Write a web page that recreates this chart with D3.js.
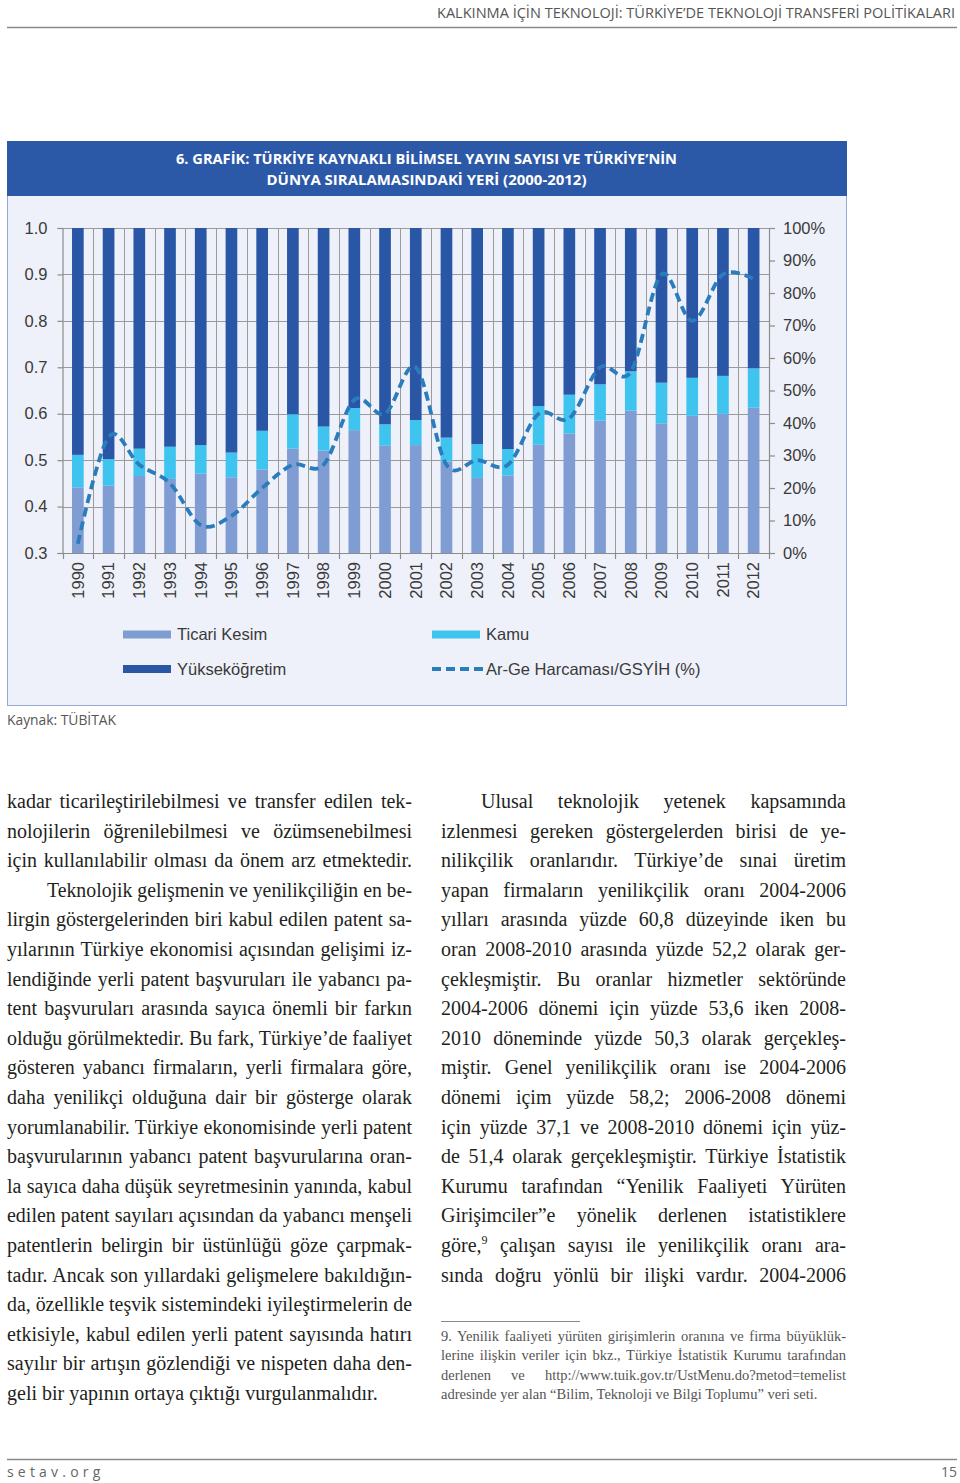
<!DOCTYPE html>
<html>
<head>
<meta charset="utf-8">
<script src="https://cdn.jsdelivr.net/npm/d3@7"></script>
<style>
  body { margin: 0; background: #ffffff; }
  svg { display: block; }
</style>
</head>
<body>
<script>
// ---------------- DATA ----------------
const years = ["1990","1991","1992","1993","1994","1995","1996","1997","1998","1999","2000","2001","2002","2003","2004","2005","2006","2007","2008","2009","2010","2011","2012"];
// shares (%) of R&D expenditure by sector
const ticari = [20.2,20.7,23.7,22.8,24.4,23.3,25.7,32.1,31.5,37.8,33.0,33.2,28.2,23.1,23.8,33.3,36.8,40.7,43.8,39.9,42.2,42.8,44.7];
const kamu   = [10.0, 8.2, 8.4, 9.9, 8.8, 7.6,11.9,10.6, 7.4, 6.8, 6.6, 7.7, 7.3,10.4, 8.2,11.9,11.9,11.2,12.1,12.5,11.7,11.7,12.1];
const yuksek = ticari.map((t, i) => +(100 - t - kamu[i]).toFixed(1));
// Ar-Ge Harcaması / GSYİH (%)
const arge   = [0.32,0.55,0.49,0.45,0.36,0.38,0.44,0.49,0.49,0.63,0.60,0.70,0.49,0.50,0.49,0.60,0.59,0.70,0.69,0.90,0.80,0.90,0.89];

const leftTicks  = [0.3,0.4,0.5,0.6,0.7,0.8,0.9,1.0];
const rightTicks = [0,0.1,0.2,0.3,0.4,0.5,0.6,0.7,0.8,0.9,1.0];

const seriesKeys   = ["ticari","kamu","yuksek"];
const seriesNames  = {ticari:"Ticari Kesim", kamu:"Kamu", yuksek:"Yükseköğretim", arge:"Ar-Ge Harcaması/GSYİH (%)"};

const headerText = "KALKINMA İÇİN TEKNOLOJİ: TÜRKİYE’DE TEKNOLOJİ TRANSFERİ POLİTİKALARI";
const titleLines = ["6. GRAFİK: TÜRKİYE KAYNAKLI BİLİMSEL YAYIN SAYISI VE TÜRKİYE’NİN","DÜNYA SIRALAMASINDAKİ YERİ (2000-2012)"];
const sourceText = "Kaynak: TÜBİTAK";

const leftColumn = [
  "kadar ticarileştirilebilmesi ve transfer edilen tek-",
  "nolojilerin öğrenilebilmesi ve özümsenebilmesi",
  "için kullanılabilir olması da önem arz etmektedir.",
  "Teknolojik gelişmenin ve yenilikçiliğin en be-",
  "lirgin göstergelerinden biri kabul edilen patent sa-",
  "yılarının Türkiye ekonomisi açısından gelişimi iz-",
  "lendiğinde yerli patent başvuruları ile yabancı pa-",
  "tent başvuruları arasında sayıca önemli bir farkın",
  "olduğu görülmektedir. Bu fark, Türkiye’de faaliyet",
  "gösteren yabancı firmaların, yerli firmalara göre,",
  "daha yenilikçi olduğuna dair bir gösterge olarak",
  "yorumlanabilir. Türkiye ekonomisinde yerli patent",
  "başvurularının yabancı patent başvurularına oran-",
  "la sayıca daha düşük seyretmesinin yanında, kabul",
  "edilen patent sayıları açısından da yabancı menşeli",
  "patentlerin belirgin bir üstünlüğü göze çarpmak-",
  "tadır. Ancak son yıllardaki gelişmelere bakıldığın-",
  "da, özellikle teşvik sistemindeki iyileştirmelerin de",
  "etkisiyle, kabul edilen yerli patent sayısında hatırı",
  "sayılır bir artışın gözlendiği ve nispeten daha den-",
  "geli bir yapının ortaya çıktığı vurgulanmalıdır."
];
const rightColumn = [
  "Ulusal teknolojik yetenek kapsamında",
  "izlenmesi gereken göstergelerden birisi de ye-",
  "nilikçilik oranlarıdır. Türkiye’de sınai üretim",
  "yapan firmaların yenilikçilik oranı 2004-2006",
  "yılları arasında yüzde 60,8 düzeyinde iken bu",
  "oran 2008-2010 arasında yüzde 52,2 olarak ger-",
  "çekleşmiştir. Bu oranlar hizmetler sektöründe",
  "2004-2006 dönemi için yüzde 53,6 iken 2008-",
  "2010 döneminde yüzde 50,3 olarak gerçekleş-",
  "miştir. Genel yenilikçilik oranı ise 2004-2006",
  "dönemi içim yüzde 58,2; 2006-2008 dönemi",
  "için yüzde 37,1 ve 2008-2010 dönemi için yüz-",
  "de 51,4 olarak gerçekleşmiştir. Türkiye İstatistik",
  "Kurumu tarafından “Yenilik Faaliyeti Yürüten",
  "Girişimciler”e yönelik derlenen istatistiklere",
  "göre,|9| çalışan sayısı ile yenilikçilik oranı ara-",
  "sında doğru yönlü bir ilişki vardır. 2004-2006"
];
const footnote = [
  "9. Yenilik faaliyeti yürüten girişimlerin oranına ve firma büyüklük-",
  "lerine ilişkin veriler için bkz., Türkiye İstatistik Kurumu tarafından",
  "derlenen ve http://www.tuik.gov.tr/UstMenu.do?metod=temelist",
  "adresinde yer alan “Bilim, Teknoloji ve Bilgi Toplumu” veri seti."
];

// ---------------- DRAW ----------------
const W = 960, H = 1483;
const svg = d3.select("body").append("svg").attr("width", W).attr("height", H);
svg.append("rect").attr("width", W).attr("height", H).attr("fill", "#ffffff");

const colors = {ticari:"#7f9dd2", kamu:"#3fc3ef", yuksek:"#2a56a6", arge:"#2b7cbc"};

// header
svg.append("text").attr("x", 437).attr("y", 18).attr("text-anchor","start")
  .attr("font-family","Open Sans, sans-serif").attr("font-size", 14.5).attr("fill","#555")
  .attr("textLength", 518).attr("lengthAdjust","spacingAndGlyphs").text(headerText);
svg.append("line").attr("x1",7).attr("x2",957).attr("y1",27.5).attr("y2",27.5)
  .attr("stroke","#8a8a8a").attr("stroke-width",1.5);

// chart panel
svg.append("rect").attr("x",7.5).attr("y",141.5).attr("width",839).attr("height",564)
  .attr("fill","#eef1f9").attr("stroke","#97a9d3").attr("stroke-width",1);
svg.append("rect").attr("x",7).attr("y",141).attr("width",840).attr("height",55).attr("fill","#2c59a7");
const tl = [[163.5, 501],[184.5, 320]];
titleLines.forEach((t,i) => {
  svg.append("text").attr("x", 426.5).attr("y", tl[i][0]).attr("text-anchor","middle")
    .attr("font-family","Open Sans, sans-serif").attr("font-weight",700).attr("font-size",15)
    .attr("fill","#ffffff").attr("textLength", tl[i][1]).attr("lengthAdjust","spacingAndGlyphs").text(t);
});

// scales
const x0 = 62.5, x1 = 769;
const x = d3.scaleBand().domain(years).range([x0, x1]).paddingInner(0.62).paddingOuter(0.31);
const yL = d3.scaleLinear().domain([0.3, 1.0]).range([553, 228]);
const yR = d3.scaleLinear().domain([0, 1]).range([553, 228]);
const step = (x1 - x0) / years.length;

const plot = svg.append("g");
// horizontal gridlines (left axis ticks)
plot.selectAll(".hg").data(leftTicks.slice(1)).join("line")
  .attr("x1", x0).attr("x2", x1).attr("y1", d => Math.round(yL(d)) + 0.5).attr("y2", d => Math.round(yL(d)) + 0.5)
  .attr("stroke","#9b9b9b").attr("stroke-width",1);
// vertical gridlines at category boundaries
const bounds = d3.range(years.length + 1).map(i => x0 + i * step);
plot.selectAll(".vg").data(bounds.slice(1, -1)).join("line")
  .attr("x1", d => Math.round(d) + 0.5).attr("x2", d => Math.round(d) + 0.5)
  .attr("y1", 228).attr("y2", 553).attr("stroke","#9b9b9b").attr("stroke-width",1);

// stacked bars
const rows = years.map((y, i) => ({year: y, ticari: ticari[i] / 100, kamu: kamu[i] / 100, yuksek: yuksek[i] / 100}));
const stacked = d3.stack().keys(seriesKeys)(rows);
plot.selectAll(".series").data(stacked).join("g").attr("fill", d => colors[d.key])
  .selectAll("rect").data(d => d).join("rect")
  .attr("x", d => x(d.data.year)).attr("width", x.bandwidth())
  .attr("y", d => yR(d[1])).attr("height", d => yR(d[0]) - yR(d[1]));

// axes
const axisColor = "#8c8c8c";
const fontAxis = "Liberation Sans, Arial, sans-serif";
const gL = svg.append("g").attr("transform", `translate(${x0},0)`)
  .call(d3.axisLeft(yL).tickValues(leftTicks).tickFormat(d3.format(".1f")).tickSize(5).tickPadding(10));
const gR = svg.append("g").attr("transform", `translate(${x1},0)`)
  .call(d3.axisRight(yR).tickValues(rightTicks).tickFormat(d3.format(".0%")).tickSize(6).tickPadding(8));
[gL, gR].forEach(g => {
  g.selectAll("path, line").attr("stroke", axisColor).attr("stroke-width", 1.2);
  g.selectAll("text").attr("font-family", fontAxis).attr("font-size", 16.5).attr("fill", "#3a3a3a");
});
// bottom axis
const gB = svg.append("g").attr("transform", `translate(0,553)`)
  .call(d3.axisBottom(x).tickSize(0).tickPadding(0));
gB.select(".domain").attr("stroke", axisColor).attr("stroke-width", 1.2);
gB.selectAll(".tick text")
  .attr("transform", "translate(0,9) rotate(-90)")
  .attr("text-anchor","end").attr("dy","0.35em").attr("y",0).attr("x",0)
  .attr("font-family", fontAxis).attr("font-size", 16.5).attr("fill","#3a3a3a");
svg.append("g").selectAll("line").data(bounds).join("line")
  .attr("x1", d => Math.round(d) + 0.5).attr("x2", d => Math.round(d) + 0.5)
  .attr("y1", 553).attr("y2", 559).attr("stroke", axisColor).attr("stroke-width", 1.2);

// Ar-Ge line
const line = d3.line().x((d, i) => x(years[i]) + x.bandwidth() / 2).y(d => yL(d)).curve(d3.curveCardinal.tension(0));
svg.append("path").datum(arge).attr("d", line).attr("fill","none")
  .attr("stroke", colors.arge).attr("stroke-width", 3.8).attr("stroke-dasharray","9,5");

// legend
const leg = svg.append("g").attr("font-family", fontAxis).attr("font-size", 16.5).attr("fill", "#3a3a3a");
const legItems = [
  {key:"ticari", x:123, y:634.5},
  {key:"kamu",   x:432, y:634.5},
  {key:"yuksek", x:123, y:669},
  {key:"arge",   x:432, y:669}
];
legItems.forEach(it => {
  if (it.key === "arge") {
    leg.append("line").attr("x1", it.x).attr("x2", it.x + 52).attr("y1", it.y).attr("y2", it.y)
      .attr("stroke", colors.arge).attr("stroke-width", 3.8).attr("stroke-dasharray","9,5");
  } else {
    leg.append("rect").attr("x", it.x).attr("y", it.y - 4).attr("width", 48).attr("height", 8).attr("fill", colors[it.key]);
  }
  leg.append("text").attr("x", it.x + 54).attr("y", it.y).attr("dy","0.36em").text(seriesNames[it.key]);
});

// source
svg.append("text").attr("x", 7).attr("y", 725).attr("font-family","Open Sans, sans-serif")
  .attr("font-size", 15).attr("fill","#555").attr("textLength",109).attr("lengthAdjust","spacingAndGlyphs").text(sourceText);

// body text
const serif = "Liberation Serif, Times New Roman, serif";
function textLine(str, xs, xe, y, size, color, justify) {
  const t = svg.append("text").attr("x", xs).attr("y", y).attr("font-family", serif)
    .attr("font-size", size).attr("fill", color);
  if (str.includes("|")) {
    const parts = str.split("|");
    t.append("tspan").text(parts[0]);
    t.append("tspan").attr("font-size", size * 0.6).attr("dy", -size * 0.38).text(parts[1]);
    t.append("tspan").attr("dy", size * 0.38).text(parts[2]);
  } else {
    t.text(str);
  }
  const target = xe - xs;
  const nat = t.node().getComputedTextLength();
  const spaces = (str.match(/ /g) || []).length;
  if (nat > target) {
    t.attr("textLength", target).attr("lengthAdjust", "spacingAndGlyphs");
  } else if (justify && spaces > 0) {
    t.style("word-spacing", ((target - nat) / spaces) + "px");
  }
}
const lh = 29.6, base0 = 808;
leftColumn.forEach((s, i) => {
  const xs = (i === 3) ? 47 : 7;
  const last = (i === leftColumn.length - 1);
  textLine(s, xs, last ? 381 : 412, base0 + i * lh, 20, "#231f20", !last);
});
rightColumn.forEach((s, i) => {
  const xs = (i === 0) ? 481 : 441;
  textLine(s, xs, 846, base0 + i * lh, 20, "#231f20", true);
});
svg.append("line").attr("x1", 441).attr("x2", 580).attr("y1", 1321.5).attr("y2", 1321.5)
  .attr("stroke", "#888").attr("stroke-width", 1);
footnote.forEach((s, i) => {
  const last = (i === footnote.length - 1);
  textLine(s, 441, last ? 828 : 846, 1340.5 + i * 19.6, 14.5, "#555", !last);
});

// footer
svg.append("line").attr("x1",7).attr("x2",957).attr("y1",1459.5).attr("y2",1459.5)
  .attr("stroke","#8a8a8a").attr("stroke-width",1.5);
svg.append("text").attr("x",7).attr("y",1477).attr("font-family","Open Sans, sans-serif")
  .attr("font-size",14).attr("fill","#666").attr("letter-spacing","4.2px").text("setav.org");
svg.append("text").attr("x",957).attr("y",1477).attr("text-anchor","end").attr("font-family","Open Sans, sans-serif")
  .attr("font-size",14).attr("fill","#666").text("15");
</script>
</body>
</html>
